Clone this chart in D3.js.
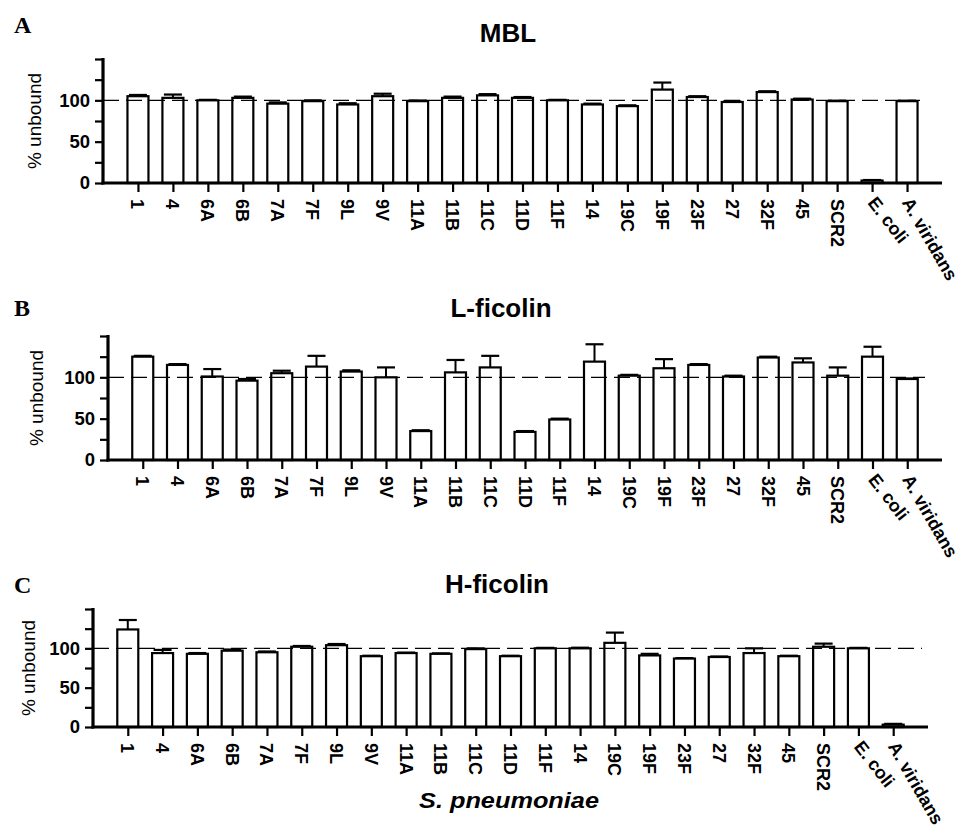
<!DOCTYPE html>
<html>
<head>
<meta charset="utf-8">
<script src="https://cdn.jsdelivr.net/npm/d3@7"></script>
<style>
  body { margin: 0; background: #fff; }
  text { font-family: "Liberation Sans", Arial, sans-serif; fill: #000; }
</style>
</head>
<body>
<div id="chart"></div>
<script>
// strains on the x axis (same for all three panels)
var categories = ["1", "4", "6A", "6B", "7A", "7F", "9L", "9V", "11A", "11B", "11C", "11D", "11F",
    "14", "19C", "19F", "23F", "27", "32F", "45", "SCR2", "E. coli", "A. viridans"];

// % unbound
var mblMean = [105, 103, 100, 103, 96, 99, 95, 105, 99, 103, 106, 103, 100, 95, 93, 113, 104, 98, 110, 101, 99, 3, 99];
var mblErr  = [1.5, 4, 0.6, 1.5, 1.5, 1, 1.5, 3, 0.8, 1.5, 1.5, 1, 0.6, 1, 1, 8.5, 1, 0.6, 1, 1, 0.6, 0.6, 0.6];

var lficMean = [125, 115, 101, 96, 105, 113, 107, 100, 35, 106, 112, 34, 49, 119, 102, 111, 115, 101, 124, 118, 102, 125, 98];
var lficErr  = [1, 1, 9, 2, 3, 13, 1.5, 12, 1, 15, 14, 1, 1, 21, 1, 11, 1, 1, 1, 5, 10, 12, 0.6];

var hficMean = [124, 94, 93, 97, 95, 102, 104, 90, 94, 93, 99, 90, 100, 100, 107, 91, 87, 89, 94, 90, 102, 100, 3];
var hficErr  = [12, 4, 1, 1.5, 1, 1, 1.5, 0.6, 0.6, 0.6, 1, 0.6, 0.6, 0.8, 13, 2, 0.6, 0.6, 6, 0.6, 4, 0.6, 1];

var yTicks = [0, 25, 50, 75, 100, 125, 150];
var yTickLabels = [0, 50, 100];
// the two last labels are slanted instead of vertical
var labelAngle = {"E. coli": 52, "A. viridans": 60};

var width = 961, height = 829;

var svg = d3.select("#chart").append("svg")
    .attr("width", width)
    .attr("height", height);

var drawPanel = function(p, means, errs){
    var g = svg.append("g");

    var x = d3.scalePoint()
        .domain(categories)
        .range([p.left, p.right])
        .padding(1);

    var y = d3.scaleLinear()
        .domain([0, 150])
        .range([p.bottom, p.top]);

    var barW = 21;

    var data = categories.map(function(c, i){
        return {cat: c, v: means[i], e: errs[i]};
    });

    // error bars (upper only)
    var err = g.selectAll(".err")
        .data(data)
        .enter().append("g");
    err.append("line")
        .attr("x1", function(d){ return x(d.cat); })
        .attr("x2", function(d){ return x(d.cat); })
        .attr("y1", function(d){ return y(d.v); })
        .attr("y2", function(d){ return y(d.v + d.e); })
        .attr("stroke", "#000")
        .attr("stroke-width", 2);
    err.append("line")
        .attr("x1", function(d){ return x(d.cat) - 9; })
        .attr("x2", function(d){ return x(d.cat) + 9; })
        .attr("y1", function(d){ return y(d.v + d.e); })
        .attr("y2", function(d){ return y(d.v + d.e); })
        .attr("stroke", "#000")
        .attr("stroke-width", 2.2);

    g.selectAll(".bar")
        .data(data)
        .enter().append("rect")
        .attr("x", function(d){ return x(d.cat) - barW / 2; })
        .attr("y", function(d){ return y(d.v); })
        .attr("width", barW)
        .attr("height", function(d){ return y(0) - y(d.v); })
        .attr("fill", "#fff")
        .attr("stroke", "#000")
        .attr("stroke-width", 2.2);

    // dashed reference line at 100
    g.append("line")
        .attr("x1", p.left)
        .attr("x2", p.dashEnd)
        .attr("y1", y(100))
        .attr("y2", y(100))
        .attr("stroke", "#000")
        .attr("stroke-width", 1.3)
        .attr("stroke-dasharray", "16,7");

    // y axis
    var yAxis = d3.axisLeft(y)
        .tickValues(yTicks)
        .tickSize(8)
        .tickPadding(5)
        .tickFormat(function(d){ return yTickLabels.indexOf(d) >= 0 ? d : ""; });
    var ya = g.append("g")
        .attr("transform", "translate(" + p.left + ",0)")
        .call(yAxis);
    ya.select(".domain").remove();
    ya.selectAll(".tick line").attr("stroke-width", 2.2);
    ya.selectAll("text")
        .style("font-size", "18.5px")
        .style("font-weight", "bold");
    g.append("line")
        .attr("x1", p.left).attr("x2", p.left)
        .attr("y1", y(150) - 1).attr("y2", y(0) + 1.5)
        .attr("stroke", "#000").attr("stroke-width", 3.2);

    // x axis
    var xAxis = d3.axisBottom(x)
        .tickSize(9)
        .tickFormat("");
    var xa = g.append("g")
        .attr("transform", "translate(0," + p.bottom + ")")
        .call(xAxis);
    xa.select(".domain").remove();
    xa.selectAll(".tick line").attr("stroke-width", 2.2);
    g.append("line")
        .attr("x1", p.left - 1.5).attr("x2", p.right)
        .attr("y1", y(0)).attr("y2", y(0))
        .attr("stroke", "#000").attr("stroke-width", 3.2);

    g.selectAll(".xlab")
        .data(categories)
        .enter().append("text")
        .attr("transform", function(d){
            var ang = labelAngle[d] || 90;
            return "translate(" + x(d) + "," + (p.bottom + 16) + ") rotate(" + ang + ")";
        })
        .attr("dy", "0.36em")
        .style("text-anchor", "start")
        .style("font-size", "18px")
        .style("font-weight", "bold")
        .text(function(d){ return d; });

    // y label
    g.append("text")
        .attr("transform", "translate(" + p.ylabX + "," + (p.top + p.bottom) / 2 + ") rotate(-90)")
        .attr("dy", "0.35em")
        .style("text-anchor", "middle")
        .style("font-size", "19px")
        .text("% unbound");

    // title
    g.append("text")
        .attr("x", p.titleX)
        .attr("y", p.titleY)
        .style("text-anchor", "middle")
        .style("font-size", "26px")
        .style("font-weight", "bold")
        .text(p.title);

    // panel letter
    g.append("text")
        .attr("x", 14)
        .attr("y", p.letterY)
        .style("font-family", "'Liberation Serif', 'Times New Roman', serif")
        .style("font-size", "24px")
        .style("font-weight", "bold")
        .text(p.letter);
};

drawPanel({letter: "A", title: "MBL", left: 103, right: 942, top: 59, bottom: 183,
    dashEnd: 920, titleX: 508, titleY: 42, letterY: 33, ylabX: 34}, mblMean, mblErr);
drawPanel({letter: "B", title: "L-ficolin", left: 108, right: 942, top: 336, bottom: 460,
    dashEnd: 925, titleX: 501, titleY: 317, letterY: 316, ylabX: 36}, lficMean, lficErr);
drawPanel({letter: "C", title: "H-ficolin", left: 93, right: 928, top: 609, bottom: 727,
    dashEnd: 922, titleX: 497, titleY: 593, letterY: 593, ylabX: 28}, hficMean, hficErr);

svg.append("text")
    .attr("x", 509)
    .attr("y", 808)
    .attr("textLength", 180)
    .attr("lengthAdjust", "spacingAndGlyphs")
    .style("text-anchor", "middle")
    .style("font-size", "22px")
    .style("font-style", "italic")
    .style("font-weight", "bold")
    .text("S. pneumoniae");
</script>
</body>
</html>
